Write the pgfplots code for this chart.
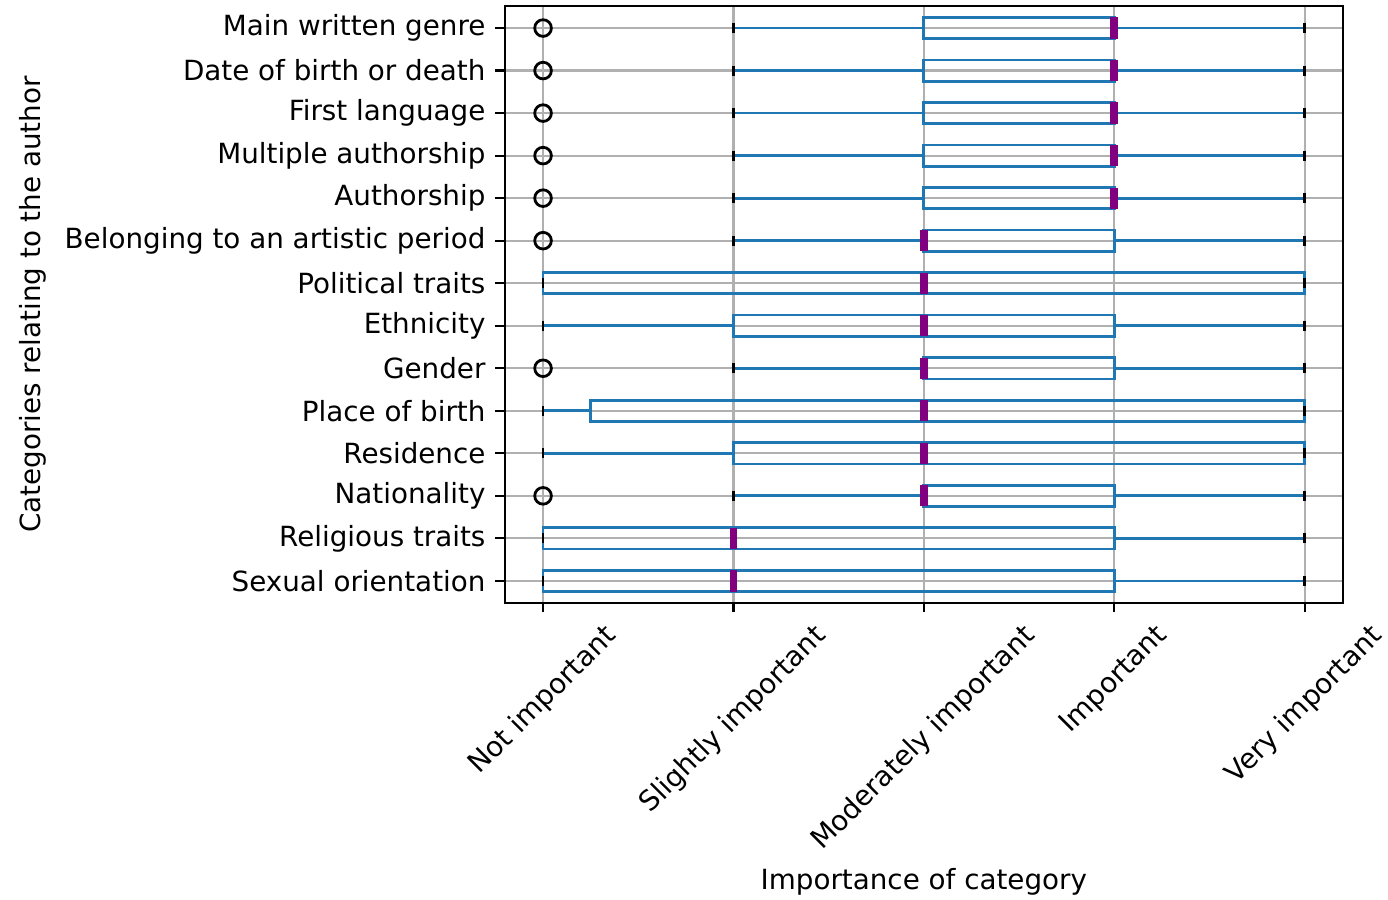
\documentclass[border=0pt]{standalone}
\usepackage{fontspec}
\setmainfont{DejaVu Sans}
\usepackage{graphicx}
\usepackage{pgfplots}
\pgfplotsset{compat=1.18}
\usepgfplotslibrary{statistics}
\definecolor{mplblue}{HTML}{1F77B4}
\definecolor{mplpurple}{HTML}{800080}
\definecolor{mplgrid}{HTML}{B0B0B0}
\begin{document}
\begin{tikzpicture}
\useasboundingbox (-181.8pt,-106.7pt) rectangle (317.9pt,217.0pt);
\begin{axis}[
  scale only axis,
  width=301.6pt, height=214.8pt,
  xmin=0.8, xmax=5.2, ymin=0.486, ymax=14.516,
  xtick={1,2,3,4,5},
  xticklabels={\rotatebox{45}{Not important},\rotatebox{45}{Slightly important},\rotatebox{45}{Moderately important},\rotatebox{45}{Important},\rotatebox{45}{Very important}},
  ytick={1,...,14},
  yticklabels={Sexual orientation,Religious traits,Nationality,Residence,Place of birth,Gender,Ethnicity,Political traits,Belonging to an artistic period,Authorship,Multiple authorship,First language,Date of birth or death,Main written genre},
  xticklabel style={anchor=north},
  yticklabel style={anchor=east},
  tick pos=left,
  tick align=outside,
  major tick length=3.5pt,
  tick style={line width=0.8pt, black},
  axis line style={line width=0.8pt, black},
  grid=major,
  major grid style={line width=0.8pt, mplgrid},
  xlabel={Importance of category},
  ylabel={Categories relating to the author},
  every axis x label/.style={at={([yshift=-100.5pt]axis description cs:0.5,0)}, anchor=center},
  every axis y label/.style={at={([xshift=-169.9pt]axis description cs:0,0.5)}, rotate=90, anchor=center},
  boxplot/box extend=0.5,
  boxplot/whisker extend=0,
  boxplot/every median/.style={draw=mplpurple, line width=2.7pt},
  boxplot/every box/.style={draw=mplblue, fill=none, line width=1pt},
  boxplot/every whisker/.style={draw=mplblue, line width=1pt},
]
% rows: draw position, lower whisker, lower quartile, median, upper quartile, upper whisker
\addplot[mplblue, boxplot prepared={draw position=1, lower whisker=1, lower quartile=1, median=2, upper quartile=4, upper whisker=5}] coordinates {};
\addplot[mplblue, boxplot prepared={draw position=2, lower whisker=1, lower quartile=1, median=2, upper quartile=4, upper whisker=5}] coordinates {};
\addplot[mplblue, boxplot prepared={draw position=3, lower whisker=2, lower quartile=3, median=3, upper quartile=4, upper whisker=5}] coordinates {};
\addplot[mplblue, boxplot prepared={draw position=4, lower whisker=1, lower quartile=2, median=3, upper quartile=5, upper whisker=5}] coordinates {};
\addplot[mplblue, boxplot prepared={draw position=5, lower whisker=1, lower quartile=1.25, median=3, upper quartile=5, upper whisker=5}] coordinates {};
\addplot[mplblue, boxplot prepared={draw position=6, lower whisker=2, lower quartile=3, median=3, upper quartile=4, upper whisker=5}] coordinates {};
\addplot[mplblue, boxplot prepared={draw position=7, lower whisker=1, lower quartile=2, median=3, upper quartile=4, upper whisker=5}] coordinates {};
\addplot[mplblue, boxplot prepared={draw position=8, lower whisker=1, lower quartile=1, median=3, upper quartile=5, upper whisker=5}] coordinates {};
\addplot[mplblue, boxplot prepared={draw position=9, lower whisker=2, lower quartile=3, median=3, upper quartile=4, upper whisker=5}] coordinates {};
\addplot[mplblue, boxplot prepared={draw position=10, lower whisker=2, lower quartile=3, median=4, upper quartile=4, upper whisker=5}] coordinates {};
\addplot[mplblue, boxplot prepared={draw position=11, lower whisker=2, lower quartile=3, median=4, upper quartile=4, upper whisker=5}] coordinates {};
\addplot[mplblue, boxplot prepared={draw position=12, lower whisker=2, lower quartile=3, median=4, upper quartile=4, upper whisker=5}] coordinates {};
\addplot[mplblue, boxplot prepared={draw position=13, lower whisker=2, lower quartile=3, median=4, upper quartile=4, upper whisker=5}] coordinates {};
\addplot[mplblue, boxplot prepared={draw position=14, lower whisker=2, lower quartile=3, median=4, upper quartile=4, upper whisker=5}] coordinates {};
% whisker caps
\addplot[only marks, mark=|, mark size=1.8pt, black, mark options={line width=1pt}] coordinates {
(1,1) (5,1) (1,2) (5,2) (2,3) (5,3) (1,4) (5,4) (1,5) (5,5) (2,6) (5,6) (1,7) (5,7)
(1,8) (5,8) (2,9) (5,9) (2,10) (5,10) (2,11) (5,11) (2,12) (5,12) (2,13) (5,13) (2,14) (5,14)};
% outliers
\addplot[only marks, mark=o, mark size=3pt, black, mark options={line width=1pt}] coordinates {
(1,3) (1,6) (1,9) (1,10) (1,11) (1,12) (1,13) (1,14)};
\end{axis}
\end{tikzpicture}
\end{document}
